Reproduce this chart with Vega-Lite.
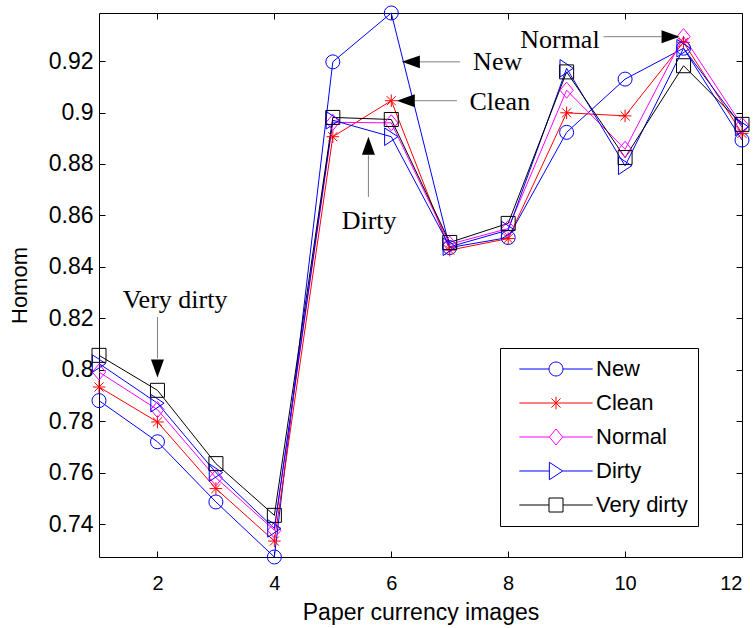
{
  "$schema": "https://vega.github.io/schema/vega-lite/v6.json",
  "autosize": {"type": "none"},
  "padding": {"left": 99, "top": 13, "right": 14, "bottom": 71},
  "width": 643,
  "height": 544,
  "background": "white",
  "datasets": {
    "homom": [
      {"image": 1, "series": "New", "homom": 0.788},
      {"image": 2, "series": "New", "homom": 0.772},
      {"image": 3, "series": "New", "homom": 0.7486},
      {"image": 4, "series": "New", "homom": 0.7272},
      {"image": 5, "series": "New", "homom": 0.9197},
      {"image": 6, "series": "New", "homom": 0.9387},
      {"image": 7, "series": "New", "homom": 0.8475},
      {"image": 8, "series": "New", "homom": 0.8514},
      {"image": 9, "series": "New", "homom": 0.8923},
      {"image": 10, "series": "New", "homom": 0.913},
      {"image": 11, "series": "New", "homom": 0.925},
      {"image": 12, "series": "New", "homom": 0.8893},
      {"image": 1, "series": "Clean", "homom": 0.7933},
      {"image": 2, "series": "Clean", "homom": 0.7797},
      {"image": 3, "series": "Clean", "homom": 0.7538},
      {"image": 4, "series": "Clean", "homom": 0.7334},
      {"image": 5, "series": "Clean", "homom": 0.8906},
      {"image": 6, "series": "Clean", "homom": 0.9046},
      {"image": 7, "series": "Clean", "homom": 0.8465},
      {"image": 8, "series": "Clean", "homom": 0.851},
      {"image": 9, "series": "Clean", "homom": 0.8999},
      {"image": 10, "series": "Clean", "homom": 0.8987},
      {"image": 11, "series": "Clean", "homom": 0.9273},
      {"image": 12, "series": "Clean", "homom": 0.8919},
      {"image": 1, "series": "Normal", "homom": 0.7991},
      {"image": 2, "series": "Normal", "homom": 0.7845},
      {"image": 3, "series": "Normal", "homom": 0.758},
      {"image": 4, "series": "Normal", "homom": 0.7376},
      {"image": 5, "series": "Normal", "homom": 0.8962},
      {"image": 6, "series": "Normal", "homom": 0.896},
      {"image": 7, "series": "Normal", "homom": 0.8488},
      {"image": 8, "series": "Normal", "homom": 0.8549},
      {"image": 9, "series": "Normal", "homom": 0.9087},
      {"image": 10, "series": "Normal", "homom": 0.8857},
      {"image": 11, "series": "Normal", "homom": 0.9295},
      {"image": 12, "series": "Normal", "homom": 0.895},
      {"image": 1, "series": "Dirty", "homom": 0.8024},
      {"image": 2, "series": "Dirty", "homom": 0.787},
      {"image": 3, "series": "Dirty", "homom": 0.76},
      {"image": 4, "series": "Dirty", "homom": 0.7383},
      {"image": 5, "series": "Dirty", "homom": 0.897},
      {"image": 6, "series": "Dirty", "homom": 0.8906},
      {"image": 7, "series": "Dirty", "homom": 0.8478},
      {"image": 8, "series": "Dirty", "homom": 0.8543},
      {"image": 9, "series": "Dirty", "homom": 0.9172},
      {"image": 10, "series": "Dirty", "homom": 0.8793},
      {"image": 11, "series": "Dirty", "homom": 0.925},
      {"image": 12, "series": "Dirty", "homom": 0.8944},
      {"image": 1, "series": "Very dirty", "homom": 0.8056},
      {"image": 2, "series": "Very dirty", "homom": 0.792},
      {"image": 3, "series": "Very dirty", "homom": 0.7635},
      {"image": 4, "series": "Very dirty", "homom": 0.7434},
      {"image": 5, "series": "Very dirty", "homom": 0.8981},
      {"image": 6, "series": "Very dirty", "homom": 0.8973},
      {"image": 7, "series": "Very dirty", "homom": 0.8495},
      {"image": 8, "series": "Very dirty", "homom": 0.8569},
      {"image": 9, "series": "Very dirty", "homom": 0.9158},
      {"image": 10, "series": "Very dirty", "homom": 0.8825},
      {"image": 11, "series": "Very dirty", "homom": 0.9182},
      {"image": 12, "series": "Very dirty", "homom": 0.8954}
    ],
    "labels": [
      {"label": "New", "x": 7.82, "y": 0.9165},
      {"label": "Clean", "x": 7.857, "y": 0.9009},
      {"label": "Dirty", "x": 5.621, "y": 0.8549},
      {"label": "Very dirty", "x": 2.301, "y": 0.8242},
      {"label": "Normal", "x": 8.885, "y": 0.9252}
    ],
    "arrows": [
      {"x": 6.46, "x2": 7.178, "y": 0.9197, "y2": 0.9197},
      {"x": 6.408, "x2": 7.122, "y": 0.9046, "y2": 0.9046},
      {"x": 5.609, "x2": 5.609, "y": 0.8834, "y2": 0.8672},
      {"x": 2.0, "x2": 2.0, "y": 0.8205, "y2": 0.8044},
      {"x": 9.631, "x2": 10.618, "y": 0.9295, "y2": 0.9295}
    ],
    "heads": [
      {"dir": "left", "x": 6.335, "y": 0.9197},
      {"dir": "left", "x": 6.249, "y": 0.9046},
      {"dir": "up", "x": 5.609, "y": 0.8871},
      {"dir": "down", "x": 2.0, "y": 0.8005},
      {"dir": "right", "x": 10.778, "y": 0.9295}
    ]
  },
  "resolve": {"scale": {"color": "independent", "shape": "independent"}},
  "layer": [
    {
      "data": {"name": "homom"},
      "encoding": {
        "x": {
          "field": "image", "type": "quantitative",
          "scale": {"domain": [1, 12], "nice": false, "zero": false},
          "axis": {
            "orient": "bottom", "values": [2, 4, 6, 8, 10, 12], "format": "d",
            "title": "Paper currency images",
            "labelFontSize": 20, "titleFontSize": 23,
            "tickSize": -6, "labelPadding": 22, "titlePadding": 8
          }
        },
        "y": {
          "field": "homom", "type": "quantitative",
          "scale": {"domain": [0.7272, 0.9387], "nice": false, "zero": false},
          "axis": {
            "orient": "left",
            "values": [0.74, 0.76, 0.78, 0.8, 0.82, 0.84, 0.86, 0.88, 0.9, 0.92],
            "format": ".2~f", "title": "Homom",
            "labelFontSize": 23, "titleFontSize": 22,
            "tickSize": -6, "labelPadding": 12, "titlePadding": 17
          }
        },
        "color": {
          "field": "series", "type": "nominal", "legend": null,
          "scale": {
            "domain": ["New", "Clean", "Normal", "Dirty", "Very dirty"],
            "range": ["#0000ff", "#ff0000", "#ff00ff", "#0000ff", "#000000"]
          }
        }
      },
      "layer": [
        {
          "mark": {"type": "line", "strokeWidth": 1},
          "encoding": {"order": {"field": "image", "type": "quantitative"}}
        },
        {
          "mark": {"type": "point", "filled": false, "strokeWidth": 1, "size": 196, "opacity": 1},
          "encoding": {
            "shape": {
              "field": "series", "type": "nominal", "legend": null,
              "scale": {
                "domain": ["New", "Clean", "Normal", "Dirty", "Very dirty"],
                "range": [
                  "circle",
                  "M-0.9,0H0.9M0,-0.9V0.9M-0.65,-0.65L0.65,0.65M-0.65,0.65L0.65,-0.65",
                  "M-0.95,0L0,-1.15L0.95,0L0,1.15Z",
                  "M0.95,0L-0.95,-1.25L-0.95,1.25Z",
                  "square"
                ]
              }
            }
          }
        }
      ]
    },
    {
      "data": {"name": "homom"},
      "transform": [{"filter": "false"}],
      "mark": {"type": "point", "filled": false, "strokeWidth": 1, "size": 196, "opacity": 1},
      "encoding": {
        "x": {
          "field": "image", "type": "quantitative",
          "axis": {"orient": "top", "values": [2, 4, 6, 8, 10, 12], "labels": false, "title": null, "tickSize": -6}
        },
        "y": {
          "field": "homom", "type": "quantitative",
          "axis": {"orient": "right", "values": [0.74, 0.76, 0.78, 0.8, 0.82, 0.84, 0.86, 0.88, 0.9, 0.92], "labels": false, "title": null, "tickSize": -6}
        },
        "color": {
          "field": "series", "type": "nominal",
          "scale": {
            "domain": ["New", "Clean", "Normal", "Dirty", "Very dirty"],
            "range": ["#0000ff", "#ff0000", "#ff00ff", "#0000ff", "#000000"]
          },
          "legend": {
            "orient": "none", "legendX": 401, "legendY": 335, "title": null,
            "symbolSize": 196, "symbolOffset": 35, "labelOffset": 29,
            "symbolStrokeWidth": 1, "labelFontSize": 22, "labelFont": "Liberation Sans",
            "labelColor": "black", "rowPadding": 12, "padding": 10,
            "strokeColor": "black", "fillColor": "white", "cornerRadius": 0
          }
        },
        "shape": {
          "field": "series", "type": "nominal",
          "scale": {
            "domain": ["New", "Clean", "Normal", "Dirty", "Very dirty"],
            "range": [
              "M-5.24,0H-1M1,0H5.24M-1,0A1,1,0,1,1,1,0A1,1,0,1,1,-1,0",
              "M-5.24,0H5.24M0,-0.9V0.9M-0.65,-0.65L0.65,0.65M-0.65,0.65L0.65,-0.65",
              "M-5.24,0H-0.95M0.95,0H5.24M-0.95,0L0,-1.15L0.95,0L0,1.15Z",
              "M-5.24,0H-0.95M0.95,0H5.24M0.95,0L-0.95,-1.25L-0.95,1.25Z",
              "M-5.24,0H-1M1,0H5.24M-1,-1H1V1H-1Z"
            ]
          },
          "legend": {
            "orient": "none", "legendX": 401, "legendY": 335, "title": null,
            "symbolSize": 196, "symbolOffset": 35, "labelOffset": 29,
            "symbolStrokeWidth": 1, "labelFontSize": 22, "labelFont": "Liberation Sans",
            "labelColor": "black", "rowPadding": 12, "padding": 10,
            "strokeColor": "black", "fillColor": "white", "cornerRadius": 0
          }
        }
      }
    },
    {
      "data": {"name": "arrows"},
      "mark": {"type": "rule", "color": "#808080", "strokeWidth": 1},
      "encoding": {
        "x": {"field": "x", "type": "quantitative", "axis": null},
        "x2": {"field": "x2"},
        "y": {"field": "y", "type": "quantitative", "axis": null},
        "y2": {"field": "y2"}
      }
    },
    {
      "data": {"name": "heads"},
      "mark": {"type": "point", "filled": true, "color": "black", "size": 324, "opacity": 1},
      "encoding": {
        "x": {"field": "x", "type": "quantitative", "axis": null},
        "y": {"field": "y", "type": "quantitative", "axis": null},
        "shape": {
          "field": "dir", "type": "nominal", "legend": null,
          "scale": {
            "domain": ["left", "up", "down", "right"],
            "range": ["M-1,0L1,-0.72L1,0.72Z", "M0,-1L-0.72,1L0.72,1Z", "M0,1L-0.72,-1L0.72,-1Z", "M1,0L-1,-0.72L-1,0.72Z"]
          }
        }
      }
    },
    {
      "data": {"name": "labels"},
      "mark": {"type": "text", "font": "Liberation Serif", "fontSize": 26, "align": "center", "baseline": "alphabetic", "color": "black"},
      "encoding": {
        "x": {"field": "x", "type": "quantitative", "axis": null},
        "y": {"field": "y", "type": "quantitative", "axis": null},
        "text": {"field": "label", "type": "nominal"}
      }
    }
  ],
  "config": {
    "view": {"stroke": null},
    "axis": {
      "grid": false, "domainColor": "black", "tickColor": "black", "labelColor": "black",
      "titleColor": "black", "labelFont": "Liberation Sans", "titleFont": "Liberation Sans",
      "titleFontWeight": "normal", "domainWidth": 1, "tickWidth": 1
    }
  }
}
